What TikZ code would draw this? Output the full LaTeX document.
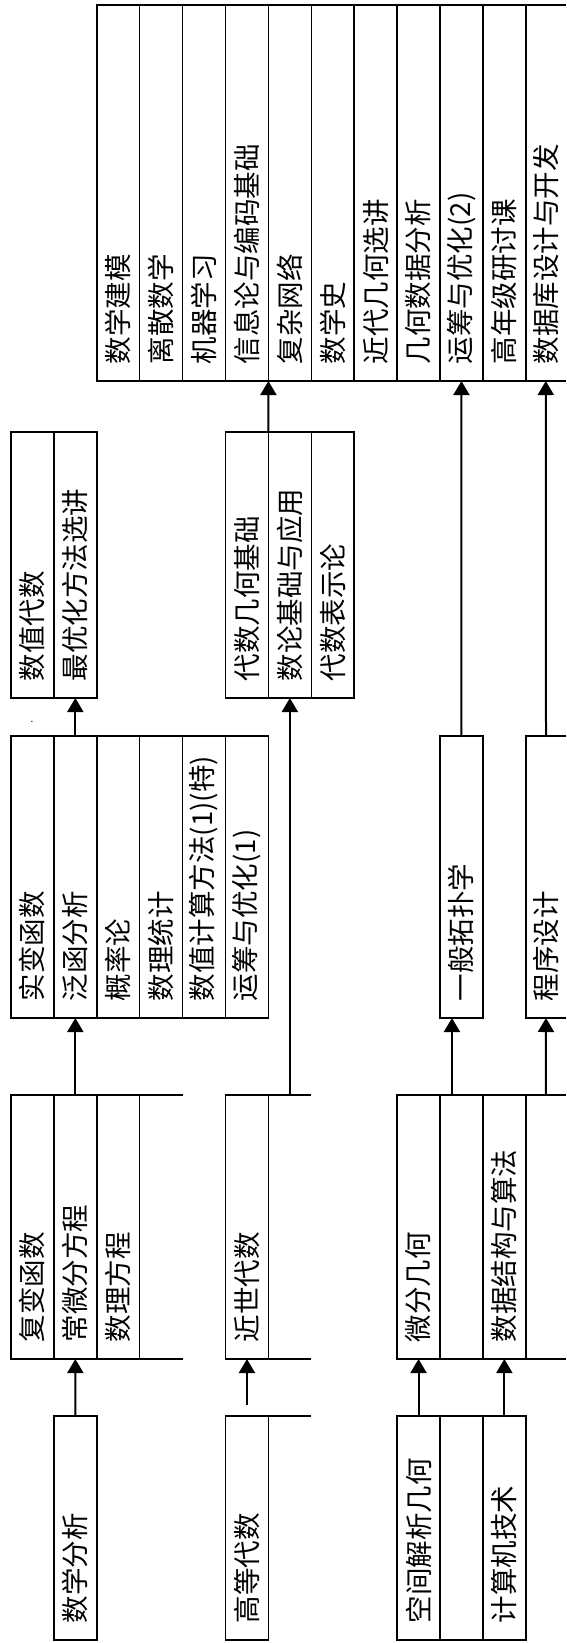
\documentclass[tikz,border=0pt]{standalone}
\usepackage{fontspec}
\usepackage{graphicx}
\setmainfont{Noto Sans CJK SC}
\usetikzlibrary{arrows.meta}
\usetikzlibrary{positioning}
\tikzset{cell/.style = {draw, inner sep = 0, outer sep = 0,
                        minimum width = 42.9pt, minimum height = #1}}
\tikzset{open/.style = {cell = #1, draw = none}}
\tikzset{up/.style = {line width = 2pt, -{Triangle[width = 16pt, length = 14pt]}}}
\newcommand{\vtext}[2]{\rotatebox{90}{\makebox[#1][l]{#2}}}

\begin{document}
\begin{tikzpicture}[x = 1pt, y = -1pt, line width = 1.5pt,
                    font = \fontsize{27.5pt}{28pt}\selectfont]
    \useasboundingbox (0, 0) rectangle (566, 1643);

    % top level
    \node [cell = 376pt] (jm) at (118.25, 193) {\vtext{342pt}{数学建模}};
    \node [cell = 376pt, right = 0pt of jm] (ls) {\vtext{342pt}{离散数学}};
    \node [cell = 376pt, right = 0pt of ls] (jq) {\vtext{342pt}{机器学习}};
    \node [cell = 376pt, right = 0pt of jq] (xx) {\vtext{342pt}{信息论与编码基础}};
    \node [cell = 376pt, right = 0pt of xx] (fz) {\vtext{342pt}{复杂网络}};
    \node [cell = 376pt, right = 0pt of fz] (sxs) {\vtext{342pt}{数学史}};
    \node [cell = 376pt, right = 0pt of sxs] (jd) {\vtext{342pt}{近代几何选讲}};
    \node [cell = 376pt, right = 0pt of jd] (jh) {\vtext{342pt}{几何数据分析}};
    \node [cell = 376pt, right = 0pt of jh] (yc2) {\vtext{342pt}{运筹与优化(2)}};
    \node [cell = 376pt, right = 0pt of yc2] (gn) {\vtext{342pt}{高年级研讨课}};
    \node [open = 376pt, minimum width = 40pt, right = 0pt of gn] (sjk) {\vtext{342pt}{数据库设计与开发}};
    \draw (sjk.north west) -- (sjk.north east) (sjk.south west) -- (sjk.south east);

    % fourth level
    \node [cell = 266pt] (sz) at (32.45, 565) {\vtext{232pt}{数值代数}};
    \node [cell = 266pt, right = 0pt of sz] (zy) {\vtext{232pt}{最优化方法选讲}};
    \node [cell = 266pt] (dj) at (246.95, 565) {\vtext{232pt}{代数几何基础}};
    \node [cell = 266pt, right = 0pt of dj] (sl) {\vtext{232pt}{数论基础与应用}};
    \node [cell = 266pt, right = 0pt of sl] (db) {\vtext{232pt}{代数表示论}};
    \node [font = \fontsize{10pt}{10pt}\selectfont] (dot) at (32, 722) {.};

    % third level
    \node [cell = 282pt] (sb) at (32.45, 877) {\vtext{248pt}{实变函数}};
    \node [cell = 282pt, right = 0pt of sb] (fh) {\vtext{248pt}{泛函分析}};
    \node [cell = 282pt, right = 0pt of fh] (gl) {\vtext{248pt}{概率论}};
    \node [cell = 282pt, right = 0pt of gl] (tj) {\vtext{248pt}{数理统计}};
    \node [cell = 282pt, right = 0pt of tj] (jsff) {\vtext{248pt}{数值计算方法(1)(特)}};
    \node [cell = 282pt, right = 0pt of jsff] (yc1) {\vtext{248pt}{运筹与优化(1)}};
    \node [cell = 282pt] (tp) at (461.45, 877) {\vtext{248pt}{一般拓扑学}};
    \node [open = 282pt, minimum width = 40pt] (cx) at (546, 877) {\vtext{248pt}{程序设计}};
    \draw (cx.north east) -- (cx.north west) -- (cx.south west) -- (cx.south east);

    % second level
    \node [cell = 264pt] (fb) at (32.45, 1227) {\vtext{230pt}{复变函数}};
    \node [cell = 264pt, right = 0pt of fb] (cw) {\vtext{230pt}{常微分方程}};
    \node [cell = 264pt, right = 0pt of cw] (slfc) {\vtext{230pt}{数理方程}};
    \node [open = 264pt, right = 0pt of slfc] (fe) {};
    \draw (fe.north west) -- (fe.north east) (fe.south west) -- (fe.south east);

    \node [cell = 264pt] (js) at (246.95, 1227) {\vtext{230pt}{近世代数}};
    \node [open = 264pt, right = 0pt of js] (je) {};
    \draw (je.north west) -- (je.north east) (je.south west) -- (je.south east);

    \node [cell = 264pt] (wf) at (418.55, 1227) {\vtext{230pt}{微分几何}};
    \node [cell = 264pt, right = 0pt of wf] (we) {};
    \node [cell = 264pt, right = 0pt of we] (sjjg) {\vtext{230pt}{数据结构与算法}};
    \node [open = 264pt, minimum width = 40pt, right = 0pt of sjjg] (wx) {};
    \draw (wx.north west) -- (wx.north east) (wx.south west) -- (wx.south east);

    % first level
    \node [cell = 224pt] (sf) at (75.35, 1528) {\vtext{190pt}{数学分析}};
    \node [cell = 224pt] (gd) at (246.95, 1528) {\vtext{190pt}{高等代数}};
    \node [open = 224pt, right = 0pt of gd] (ge) {};
    \draw (ge.north west) -- (ge.north east);
    \node [cell = 224pt] (kj) at (418.55, 1528) {\vtext{190pt}{空间解析几何}};
    \node [cell = 224pt, right = 0pt of kj] (ke) {};
    \node [cell = 224pt, right = 0pt of ke] (jsj) {\vtext{190pt}{计算机技术}};

    % prerequisites
    \draw [up] (sf.north) -- (cw.south);
    \draw [up] ([yshift = 11pt]gd.north) -- (js.south);
    \draw [up] (kj.north) -- (wf.south);
    \draw [up] (jsj.north) -- (sjjg.south);

    \draw [up] (cw.north) -- (fh.south);
    \draw [up] (je.north) -- (sl.south);
    \draw [up] ([xshift = -9.5pt]we.north) -- ([xshift = -9.5pt]tp.south);
    \draw [up] (wx.north) -- (cx.south);

    \draw [up] (fh.north) -- (zy.south);
    \draw [up] (tp.north) -- (yc2.south);
    \draw [up] (cx.north) -- (sjk.south);

    \draw [up] (dj.north east) -- (xx.south east);
\end{tikzpicture}
\end{document}
